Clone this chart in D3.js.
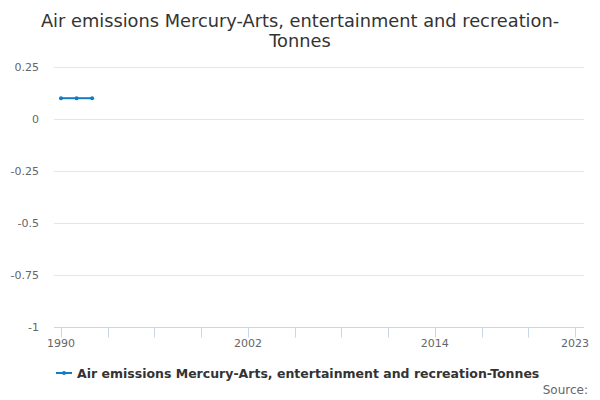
<!DOCTYPE html>
<meta charset="utf-8">
<style>
body { margin: 0; background: #fff; }
text { font-family: "DejaVu Sans", sans-serif; }
.grid line { stroke: #e6e6e6; }
</style>
<body>
<script src="https://d3js.org/d3.v7.min.js"></script>
<script>
var years = [1990, 1991, 1992];
var values = [0.1, 0.1, 0.1];
var yTicks = [0.25, 0, -0.25, -0.5, -0.75, -1];
var xTicks = [1990, 1993, 1996, 1999, 2002, 2005, 2008, 2011, 2014, 2017, 2020, 2023];
var xLabels = [1990, 2002, 2014, 2023];
var seriesName = "Air emissions Mercury-Arts, entertainment and recreation-Tonnes";

var width = 600, height = 400;
var plotLeft = 54, plotRight = 584;

var svg = d3.select("body").append("svg")
    .attr("width", width)
    .attr("height", height);

var x = d3.scaleLinear().domain([1990, 2023]).range([61, 575]);
var y = d3.scaleLinear().domain([-1, 0.25]).range([327, 67]);

// title
svg.append("text")
    .attr("x", 300).attr("y", 27)
    .attr("text-anchor", "middle")
    .attr("fill", "#333").style("font-size", "17.8px")
    .text("Air emissions Mercury-Arts, entertainment and recreation-");
svg.append("text")
    .attr("x", 300).attr("y", 47)
    .attr("text-anchor", "middle")
    .attr("fill", "#333").style("font-size", "17.8px")
    .text("Tonnes");

// grid lines
svg.append("g").attr("class", "grid")
  .selectAll("line")
    .data(yTicks.filter(function(d) { return d !== -1; }))
  .enter().append("line")
    .attr("x1", plotLeft).attr("x2", plotRight)
    .attr("y1", function(d) { return Math.round(y(d)) + 0.5; })
    .attr("y2", function(d) { return Math.round(y(d)) + 0.5; });

// y labels
svg.append("g")
  .selectAll("text")
    .data(yTicks)
  .enter().append("text")
    .attr("x", 39)
    .attr("y", function(d) { return y(d) + 4; })
    .attr("text-anchor", "end")
    .attr("fill", "#666").style("font-size", "11px")
    .text(function(d) { return String(d); });

// x axis
var xAxis = svg.append("g")
    .attr("transform", "translate(0," + (Math.round(y(-1)) + 0.5) + ")");
xAxis.append("line")
    .attr("x1", plotLeft).attr("x2", plotRight)
    .attr("stroke", "#ccd6eb");
xAxis.selectAll(".tick")
    .data(xTicks)
  .enter().append("line")
    .attr("x1", function(d) { return Math.round(x(d)) + 0.5; })
    .attr("x2", function(d) { return Math.round(x(d)) + 0.5; })
    .attr("y1", 0).attr("y2", 10)
    .attr("stroke", "#ccd6eb");
xAxis.selectAll(".lbl")
    .data(xLabels)
  .enter().append("text")
    .attr("x", function(d) { return x(d); })
    .attr("y", 19)
    .attr("text-anchor", "middle")
    .attr("fill", "#666").style("font-size", "11px")
    .text(function(d) { return d; });

// series
var pts = years.map(function(d, i) { return [d, values[i]]; });
var line = d3.line()
    .x(function(d) { return x(d[0]); })
    .y(function(d) { return y(d[1]); });
svg.append("path")
    .datum(pts)
    .attr("d", line)
    .attr("fill", "none")
    .attr("stroke", "#0f7dc2")
    .attr("stroke-width", 2);
svg.selectAll(".dot")
    .data(pts)
  .enter().append("circle")
    .attr("cx", function(d) { return x(d[0]); })
    .attr("cy", function(d) { return y(d[1]); })
    .attr("r", 2)
    .attr("fill", "#0f7dc2");

// legend
var leg = svg.append("g").attr("transform", "translate(0,373)");
leg.append("line")
    .attr("x1", 56).attr("x2", 72)
    .attr("stroke", "#0f7dc2").attr("stroke-width", 2);
leg.append("circle")
    .attr("cx", 64).attr("r", 2).attr("fill", "#0f7dc2");
leg.append("text")
    .attr("x", 77).attr("y", 5)
    .attr("fill", "#333").style("font-size", "12.5px").style("font-weight", "bold")
    .text(seriesName);

// credits
svg.append("text")
    .attr("x", 588).attr("y", 394)
    .attr("text-anchor", "end")
    .attr("fill", "#666").style("font-size", "12px")
    .text("Source:");
</script>
</body>
